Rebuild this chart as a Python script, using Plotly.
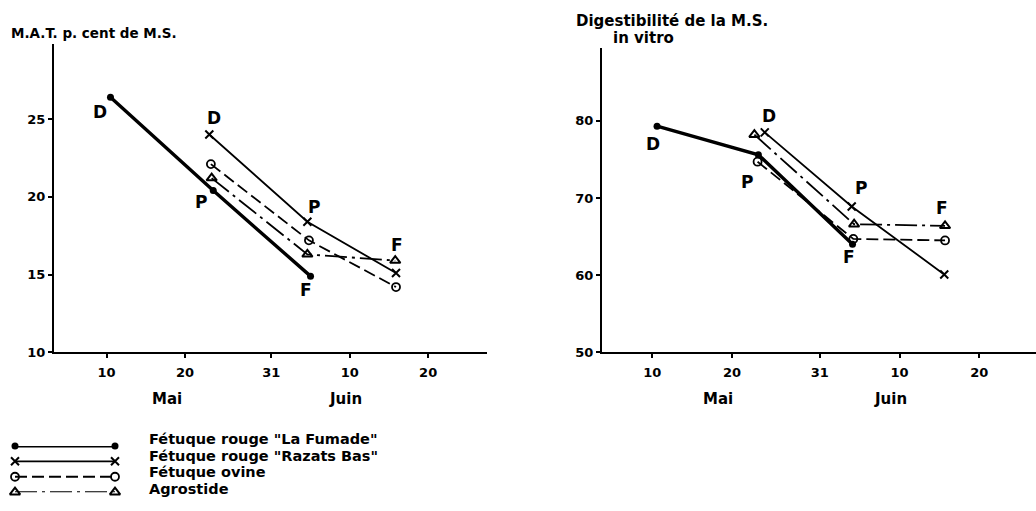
import plotly.graph_objects as go

W, H = 1036, 511

# ---------------- data ----------------
tick_days = [10, 20, 31, 41, 51]          # days counted from 1 May
tick_labels = ["10", "20", "31", "10", "20"]
months = ["Mai", "Juin"]
stages = ["D", "P", "F"]
series_names = ['Fétuque rouge "La Fumade"', 'Fétuque rouge "Razats Bas"',
                'Fétuque ovine', 'Agrostide']

# M.A.T. p. cent de M.S.
mat_fumade_x = [10.5, 23.6, 36.0]
mat_fumade_y = [26.4, 20.4, 14.9]
mat_razats_x = [23.1, 35.6, 46.9]
mat_razats_y = [24.0, 18.4, 15.1]
mat_ovine_x = [23.3, 35.8, 46.9]
mat_ovine_y = [22.1, 17.2, 14.2]
mat_agros_x = [23.4, 35.6, 46.8]
mat_agros_y = [21.2, 16.3, 15.9]

# Digestibilité de la M.S. in vitro
dig_fumade_x = [10.6, 23.3, 35.1]
dig_fumade_y = [79.3, 75.6, 64.0]
dig_razats_x = [24.1, 35.0, 46.6]
dig_razats_y = [78.5, 68.9, 60.1]
dig_ovine_x = [23.2, 35.2, 46.7]
dig_ovine_y = [74.7, 64.7, 64.5]
dig_agros_x = [22.8, 35.3, 46.7]
dig_agros_y = [78.2, 66.6, 66.4]

mat_ticks = [10, 15, 20, 25]
dig_ticks = [50, 60, 70, 80]

# ---------------- styles ----------------
FONT = "DejaVu Sans"
styles = [
    dict(line=dict(color="black", width=3.4), marker=dict(symbol="circle", size=7, color="black")),
    dict(line=dict(color="black", width=1.8), marker=dict(symbol="x-thin-open", size=8, color="black", line=dict(width=2, color="black"))),
    dict(line=dict(color="black", width=1.8, dash="12px,5px"), marker=dict(symbol="circle-open", size=8, color="black", line=dict(width=1.8, color="black"))),
    dict(line=dict(color="black", width=1.8, dash="22px,5px,3px,5px"), marker=dict(symbol="triangle-up-open", size=9, color="black", line=dict(width=2, color="black"))),
]

def px_x(p):
    return p / W

def px_y(p):
    return 1 - p / H

def bold(size):
    return dict(family=FONT, size=size, color="black", weight="bold")

fig = go.Figure()

mat_series = [(mat_fumade_x, mat_fumade_y), (mat_razats_x, mat_razats_y),
              (mat_ovine_x, mat_ovine_y), (mat_agros_x, mat_agros_y)]
dig_series = [(dig_fumade_x, dig_fumade_y), (dig_razats_x, dig_razats_y),
              (dig_ovine_x, dig_ovine_y), (dig_agros_x, dig_agros_y)]

for i, (xs, ys) in enumerate(mat_series):
    fig.add_trace(go.Scatter(x=xs, y=ys, mode="lines+markers", name=series_names[i],
                             xaxis="x", yaxis="y", showlegend=False, cliponaxis=False,
                             **styles[i]))
for i, (xs, ys) in enumerate(dig_series):
    fig.add_trace(go.Scatter(x=xs, y=ys, mode="lines+markers", name=series_names[i],
                             xaxis="x2", yaxis="y2", showlegend=False, cliponaxis=False,
                             **styles[i]))

# legend samples (hand-drawn style legend below the left panel)
for i in range(4):
    fig.add_trace(go.Scatter(x=[0, 1], y=[i, i], mode="lines+markers", name=series_names[i],
                             xaxis="x3", yaxis="y3", showlegend=False, cliponaxis=False,
                             hoverinfo="skip", **styles[i]))

annotations = []

# stage labels: (series index, stage index, xshift, yshift)
mat_labels = [(0, 0, -10, -15), (1, 0, 5, 17), (0, 1, -12, -11),
              (1, 1, 7, 15), (0, 2, -5, -14), (3, 2, 2, 16)]
dig_labels = [(0, 0, -4, -18), (1, 0, 4, 16), (0, 1, -11, -27),
              (1, 1, 9, 18), (0, 2, -4, -13), (3, 2, -3, 18)]

for s, k, dx, dy in mat_labels:
    xs, ys = mat_series[s]
    annotations.append(dict(x=xs[k], y=ys[k], xref="x", yref="y", text=stages[k],
                            showarrow=False, xshift=dx, yshift=dy, font=bold(17)))
for s, k, dx, dy in dig_labels:
    xs, ys = dig_series[s]
    annotations.append(dict(x=xs[k], y=ys[k], xref="x2", yref="y2", text=stages[k],
                            showarrow=False, xshift=dx, yshift=dy, font=bold(17)))

# axis titles
annotations.append(dict(x=px_x(9), y=px_y(34), xref="paper", yref="paper", xanchor="left",
                        yanchor="middle", text="M.A.T. p. cent de M.S.", showarrow=False,
                        font=bold(13.5)))
annotations.append(dict(x=px_x(574), y=px_y(21), xref="paper", yref="paper", xanchor="left",
                        yanchor="middle", text="Digestibilité de la M.S.", showarrow=False,
                        font=bold(15)))
annotations.append(dict(x=px_x(611), y=px_y(39), xref="paper", yref="paper", xanchor="left",
                        yanchor="middle", text="in vitro", showarrow=False,
                        font=bold(15)))

# month labels
for cx, m in [(167, months[0]), (345, months[1]), (718, months[0]), (890, months[1])]:
    annotations.append(dict(x=px_x(cx), y=px_y(405), xref="paper", yref="paper",
                            xanchor="center", yanchor="middle", text=m, showarrow=False,
                            font=bold(15)))

# legend texts
for i, cy in enumerate([446, 463, 480, 497]):
    annotations.append(dict(x=px_x(147), y=px_y(cy), xref="paper", yref="paper",
                            xanchor="left", yanchor="middle", text=series_names[i],
                            showarrow=False, font=bold(14.5)))

tickfont = bold(13)
common_x = dict(range=[3.3, 58.5], tickmode="array", tickvals=tick_days, ticktext=tick_labels,
                showline=True, linewidth=2, linecolor="black", ticks="outside", ticklen=4,
                tickwidth=1.5, tickcolor="black", showgrid=False, zeroline=False,
                tickfont=tickfont, ticklabelstandoff=3)
common_y = dict(showline=True, linewidth=2, linecolor="black", ticks="outside", ticklen=4,
                tickwidth=1.5, tickcolor="black", showgrid=False, zeroline=False,
                tickfont=tickfont, tickmode="array")

fig.update_layout(
    width=W, height=H, autosize=False,
    margin=dict(l=0, r=0, t=0, b=0),
    paper_bgcolor="white", plot_bgcolor="white",
    font=dict(family=FONT, color="black"),
    xaxis=dict(domain=[px_x(54), px_x(487)], anchor="y", **common_x),
    yaxis=dict(domain=[px_y(358), px_y(45)], anchor="x", range=[10, 29.8],
               tickvals=mat_ticks, **common_y),
    xaxis2=dict(domain=[px_x(602), 1.0], anchor="y2",
                **{**common_x, "range": [3.7, 58.1]}),
    yaxis2=dict(domain=[px_y(358), px_y(49)], anchor="x2", range=[50, 89.4],
                tickvals=dig_ticks, **common_y),
    xaxis3=dict(domain=[px_x(15), px_x(115)], anchor="y3", range=[0, 1], visible=False),
    yaxis3=dict(domain=[px_y(500), px_y(453)], anchor="x3", range=[3, 0], visible=False),
    annotations=annotations,
    showlegend=False,
)

fig.write_html("out.html", config={"displayModeBar": False},
               post_script="document.body.style.margin='0';")
